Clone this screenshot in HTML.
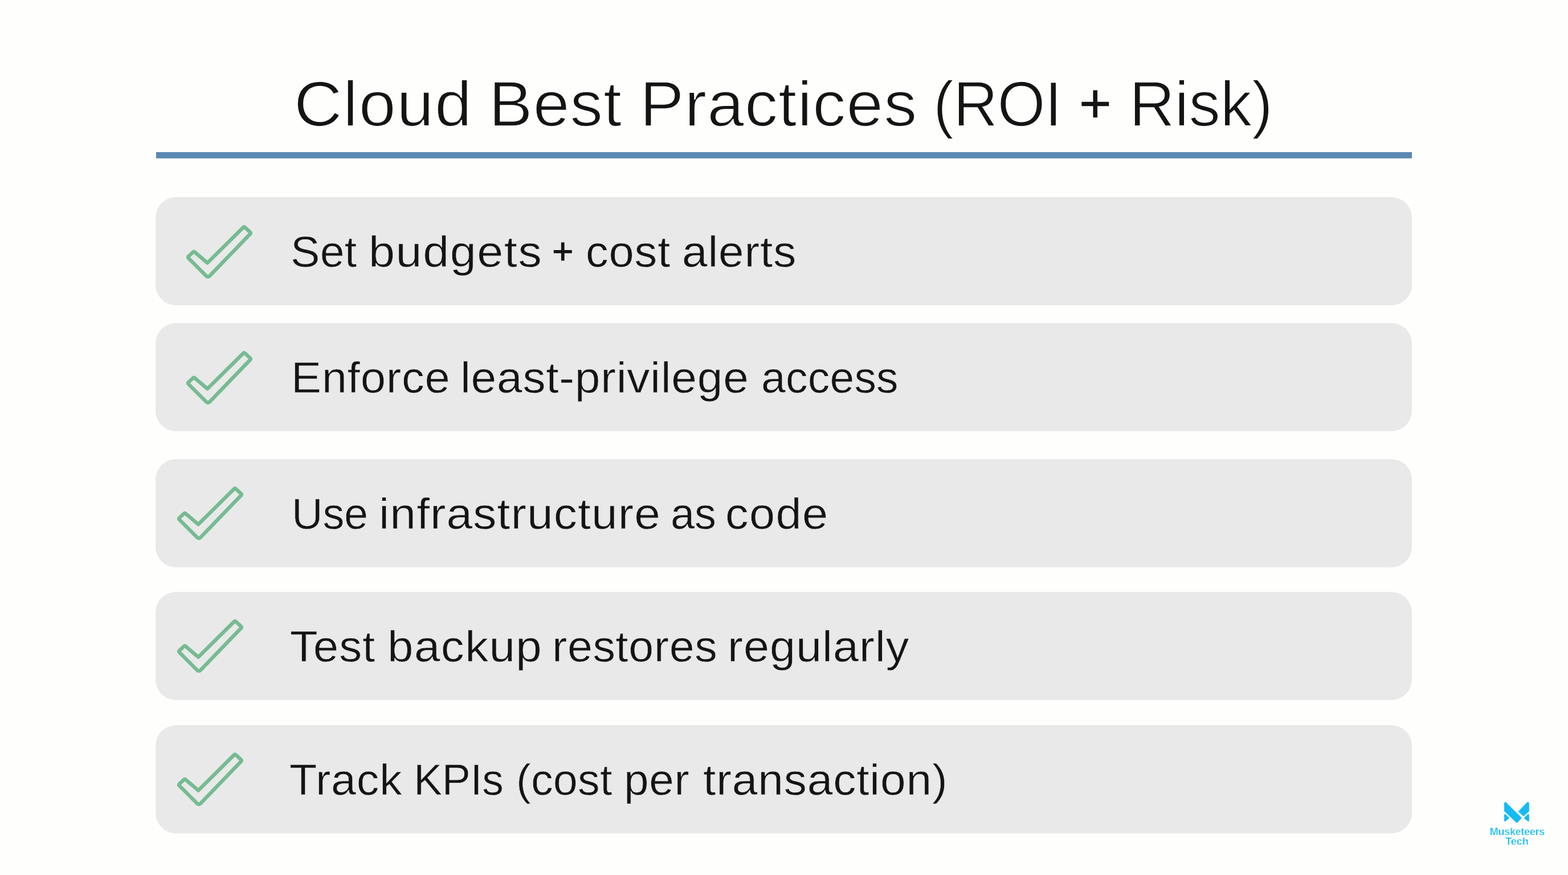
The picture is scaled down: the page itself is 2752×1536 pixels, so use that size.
<!DOCTYPE html>
<html lang="en">
<head>
<meta charset="utf-8">
<title>Cloud Best Practices (ROI + Risk)</title>
<style>
*{box-sizing:border-box;}
html,body{margin:0;padding:0;background:#fefefd;}
body{width:2752px;height:1536px;overflow:hidden;position:relative;font-family:"Liberation Sans",Arial,Helvetica,sans-serif;color:#141414;}
.slide{position:absolute;left:0;top:0;width:2752px;height:1536px;background:#fefefd;overflow:hidden;}
h1,ul,li,p{margin:0;padding:0;font-weight:normal;list-style:none;}
.title{position:absolute;left:0;top:0;width:2752px;height:260px;font-size:111.5px;line-height:1;-webkit-text-stroke:1.7px #fefefd;}
.rule{position:absolute;left:274px;top:267.1px;width:2204px;height:10.5px;background:#5b89b4;}
.items{position:absolute;left:0;top:0;width:2752px;height:1536px;}
.card{position:absolute;left:273px;width:2205.0px;background:#e9e9e9;border-radius:36px;font-size:76.6px;line-height:1;-webkit-text-stroke:0.6px #e9e9e9;}
.card p{position:absolute;left:0;top:0;width:100%;height:100%;}
.w{position:absolute;display:block;line-height:1;white-space:pre;transform-origin:0 0;}
.w.plus{-webkit-text-stroke-color:#141414;}
.check{position:absolute;display:block;overflow:visible;}
.check path{fill:none;stroke:#76bb92;stroke-width:6.4;stroke-linejoin:round;}
.logo{position:absolute;left:2600px;top:1400px;width:126px;height:90px;color:#16bbf3;font-weight:bold;font-size:18px;line-height:1;text-align:center;-webkit-text-stroke:0.3px #fefefd;}
.logo svg{position:absolute;left:0;top:0;display:block;overflow:visible;}
.logo svg path{fill:#16bbf3;stroke:#16bbf3;stroke-width:2.6;stroke-linejoin:round;}
.logo span{position:absolute;display:block;white-space:pre;line-height:1;}
</style>
</head>
<body>
<main class="slide">
<h1 class="title">
<span class="w" style="left:515.82px;top:127.75px;font-size:110.76px;letter-spacing:1.559px;transform:scaleX(1.0556)">Cloud</span> <span class="w" style="left:857.73px;top:127.75px;font-size:110.76px;letter-spacing:1.064px;transform:scaleX(1.0365)">Best</span> <span class="w" style="left:1122.50px;top:127.75px;font-size:110.76px;letter-spacing:1.077px;transform:scaleX(1.0477)">Practices</span> <span class="w" style="left:1637.57px;top:127.75px;font-size:110.76px;letter-spacing:-0.770px;transform:scaleX(0.9757)">(ROI</span> <span class="w plus" style="left:1894.08px;top:132.97px;font-size:97.20px;-webkit-text-stroke-width:0.6px">+</span> <span class="w" style="left:1981.86px;top:127.75px;font-size:110.76px;letter-spacing:-0.029px;transform:scaleX(0.9988)">Risk)</span>
</h1>
<div class="rule"></div>
<ul class="items">
<li class="card" style="top:346px;height:190.0px">
<svg class="check" style="left:53.0px;top:48.0px" width="118" height="97" viewBox="0 0 118 97" aria-hidden="true"><path d="M4.61 59.01 Q3.20 57.60 4.65 56.23 L12.75 48.57 Q14.20 47.20 15.72 48.49 L38.05 67.45 L100.98 5.11 Q102.40 3.70 103.87 5.06 L113.13 13.64 Q114.60 15.00 113.21 16.44 L42.12 90.16 Q39.00 93.40 35.82 90.22 Z"/></svg>
<p><span class="w" style="left:236.94px;top:58.03px;font-size:76.16px;letter-spacing:0.276px;transform:scaleX(1.0117)">Set</span> <span class="w" style="left:374.25px;top:58.03px;font-size:76.16px;letter-spacing:1.478px;transform:scaleX(1.0853)">budgets</span> <span class="w plus" style="left:696.22px;top:64.37px;font-size:63.44px;-webkit-text-stroke-width:1.2px">+</span> <span class="w" style="left:754.74px;top:58.03px;font-size:76.16px;letter-spacing:0.809px;transform:scaleX(1.0431)">cost</span> <span class="w" style="left:924.26px;top:58.03px;font-size:76.16px;letter-spacing:0.783px;transform:scaleX(1.0532)">alerts</span></p>
</li>
<li class="card" style="top:567px;height:190.0px">
<svg class="check" style="left:53.0px;top:48.0px" width="118" height="97" viewBox="0 0 118 97" aria-hidden="true"><path d="M4.61 59.01 Q3.20 57.60 4.65 56.23 L12.75 48.57 Q14.20 47.20 15.72 48.49 L38.05 67.45 L100.98 5.11 Q102.40 3.70 103.87 5.06 L113.13 13.64 Q114.60 15.00 113.21 16.44 L42.12 90.16 Q39.00 93.40 35.82 90.22 Z"/></svg>
<p><span class="w" style="left:238.19px;top:58.03px;font-size:76.16px;letter-spacing:0.757px;transform:scaleX(1.0438)">Enforce</span> <span class="w" style="left:535.43px;top:58.03px;font-size:76.16px;letter-spacing:0.722px;transform:scaleX(1.0538)">least-privilege</span> <span class="w" style="left:1062.62px;top:58.03px;font-size:76.16px;letter-spacing:0.209px;transform:scaleX(1.0106)">access</span></p>
</li>
<li class="card" style="top:806px;height:190.0px">
<svg class="check" style="left:37.0px;top:47.0px" width="118" height="97" viewBox="0 0 118 97" aria-hidden="true"><path d="M4.61 59.01 Q3.20 57.60 4.65 56.23 L12.75 48.57 Q14.20 47.20 15.72 48.49 L38.05 67.45 L100.98 5.11 Q102.40 3.70 103.87 5.06 L113.13 13.64 Q114.60 15.00 113.21 16.44 L42.12 90.16 Q39.00 93.40 35.82 90.22 Z"/></svg>
<p><span class="w" style="left:239.45px;top:58.03px;font-size:76.16px;letter-spacing:-0.182px;transform:scaleX(0.9934)">Use</span> <span class="w" style="left:392.20px;top:58.03px;font-size:76.16px;letter-spacing:1.043px;transform:scaleX(1.0783)">infrastructure</span> <span class="w" style="left:903.96px;top:58.03px;font-size:76.16px;letter-spacing:-0.166px;transform:scaleX(0.9949)">as</span> <span class="w" style="left:1000.10px;top:58.03px;font-size:76.16px;letter-spacing:1.367px;transform:scaleX(1.0640)">code</span></p>
</li>
<li class="card" style="top:1039px;height:190.0px">
<svg class="check" style="left:37.0px;top:47.0px" width="118" height="97" viewBox="0 0 118 97" aria-hidden="true"><path d="M4.61 59.01 Q3.20 57.60 4.65 56.23 L12.75 48.57 Q14.20 47.20 15.72 48.49 L38.05 67.45 L100.98 5.11 Q102.40 3.70 103.87 5.06 L113.13 13.64 Q114.60 15.00 113.21 16.44 L42.12 90.16 Q39.00 93.40 35.82 90.22 Z"/></svg>
<p><span class="w" style="left:235.94px;top:58.03px;font-size:76.16px;letter-spacing:0.898px;transform:scaleX(1.0477)">Test</span> <span class="w" style="left:406.85px;top:58.03px;font-size:76.16px;letter-spacing:1.376px;transform:scaleX(1.0726)">backup</span> <span class="w" style="left:695.80px;top:58.03px;font-size:76.16px;letter-spacing:0.591px;transform:scaleX(1.0375)">restores</span> <span class="w" style="left:1003.86px;top:58.03px;font-size:76.16px;letter-spacing:0.914px;transform:scaleX(1.0633)">regularly</span></p>
</li>
<li class="card" style="top:1273px;height:190.0px">
<svg class="check" style="left:37.0px;top:47.0px" width="118" height="97" viewBox="0 0 118 97" aria-hidden="true"><path d="M4.61 59.01 Q3.20 57.60 4.65 56.23 L12.75 48.57 Q14.20 47.20 15.72 48.49 L38.05 67.45 L100.98 5.11 Q102.40 3.70 103.87 5.06 L113.13 13.64 Q114.60 15.00 113.21 16.44 L42.12 90.16 Q39.00 93.40 35.82 90.22 Z"/></svg>
<p><span class="w" style="left:235.47px;top:58.03px;font-size:76.16px;letter-spacing:0.714px;transform:scaleX(1.0370)">Track</span> <span class="w" style="left:452.58px;top:58.03px;font-size:76.16px;letter-spacing:-0.301px;transform:scaleX(0.9863)">KPIs</span> <span class="w" style="left:632.66px;top:58.03px;font-size:76.16px;letter-spacing:0.244px;transform:scaleX(1.0143)">(cost</span> <span class="w" style="left:822.07px;top:58.03px;font-size:76.16px;letter-spacing:0.619px;transform:scaleX(1.0285)">per</span> <span class="w" style="left:961.30px;top:58.03px;font-size:76.16px;letter-spacing:0.792px;transform:scaleX(1.0545)">transaction)</span></p>
</li>
</ul>
<div class="logo">
<svg width="126" height="50" viewBox="0 0 126 50" aria-hidden="true"><path d="M41.3 9.5 L42.4 9.3 L69.2 35.8 L62.3 43.2 L41.3 23.4 Z"/><path d="M81.2 9.2 L82.5 9.7 L82.5 23.7 L73.9 31.4 L66.5 24.3 Z"/><path d="M41.3 30.3 L47.6 36.0 L41.3 40.7 Z"/><path d="M82.5 30.3 L76.2 36.0 L82.5 40.7 Z"/></svg>
<span style="left:14.8px;top:51.06px;letter-spacing:-0.3px">Musketeers</span>
<span style="left:42.3px;top:68.06px;letter-spacing:-0.1px">Tech</span>
</div>
</main>
</body>
</html>
